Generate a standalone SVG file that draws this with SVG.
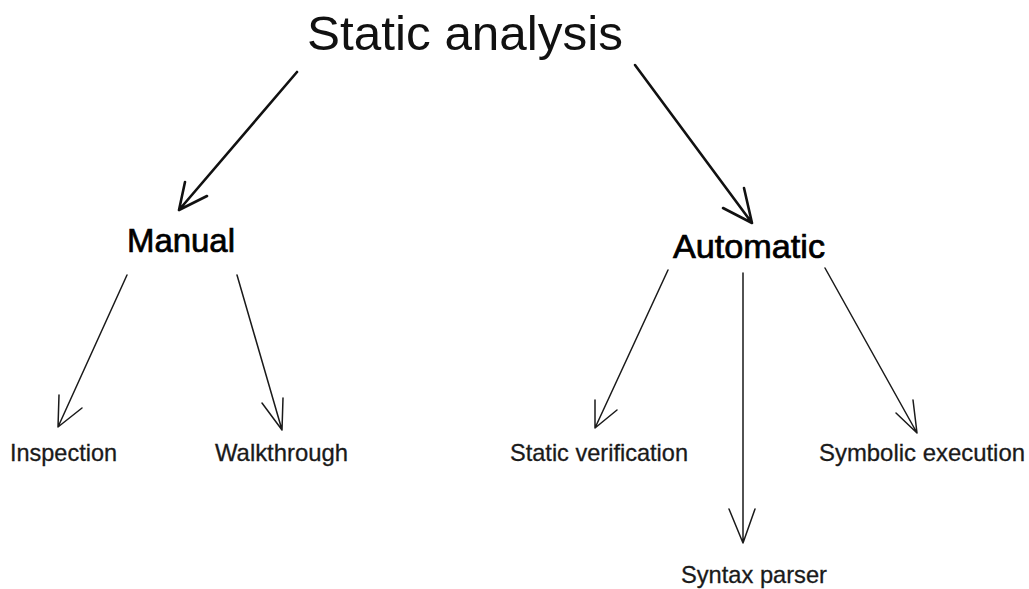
<svg xmlns="http://www.w3.org/2000/svg" width="1029" height="589" viewBox="0 0 1029 589">
<style>
  .title { font-family: "Liberation Sans", Arial, sans-serif; font-size: 49px; fill: #111; }
  .mid { font-family: "Liberation Sans", Arial, sans-serif; font-size: 33px; fill: #000; stroke: #000; stroke-width: 0.7; }
  .leaf { font-family: "Liberation Sans", Arial, sans-serif; font-size: 24px; fill: #1a1a1a; stroke: #1a1a1a; stroke-width: 0.3; }
  .thick { fill: none; stroke: #111; stroke-width: 2.6; stroke-linecap: round; stroke-linejoin: round; }
  .thin { fill: none; stroke: #1a1a1a; stroke-width: 1.5; stroke-linecap: round; stroke-linejoin: round; }
</style>
<rect width="1029" height="589" fill="#ffffff"/>
<g id="connectors">
  <path class="thick" d="M297,72 L179,210 M185,182 L179,210 L207,196"/>
  <path class="thick" d="M635,65 L752,223 M744,188 L752,223 L723,208"/>
  <path class="thin" d="M127,275 L58,427 M59,395 L58,427 L82,408"/>
  <path class="thin" d="M237,275 L282,430 M283,398 L282,430 L262,403"/>
  <path class="thin" d="M668,270 L595,428 M595,400 L595,428 L617,410"/>
  <path class="thin" d="M743,273 L743,543 M729,509 L743,543 L755,509"/>
  <path class="thin" d="M825,268 L917,433 M913,400 L917,433 L896,413"/>
</g>
<g id="static-analysis"><text class="title" x="307" y="50" textLength="316" lengthAdjust="spacingAndGlyphs">Static analysis</text></g>
<g id="manual"><text class="mid" x="127" y="252" textLength="108" lengthAdjust="spacingAndGlyphs">Manual</text></g>
<g id="automatic"><text class="mid" x="673" y="258" textLength="152" lengthAdjust="spacingAndGlyphs">Automatic</text></g>
<g id="inspection"><text class="leaf" x="10" y="461" textLength="107" lengthAdjust="spacingAndGlyphs">Inspection</text></g>
<g id="walkthrough"><text class="leaf" x="215" y="461" textLength="133" lengthAdjust="spacingAndGlyphs">Walkthrough</text></g>
<g id="static-verification"><text class="leaf" x="510" y="461" textLength="178" lengthAdjust="spacingAndGlyphs">Static verification</text></g>
<g id="symbolic-execution"><text class="leaf" x="819" y="461" textLength="206" lengthAdjust="spacingAndGlyphs">Symbolic execution</text></g>
<g id="syntax-parser"><text class="leaf" x="681" y="583" textLength="146" lengthAdjust="spacingAndGlyphs">Syntax parser</text></g>
</svg>
